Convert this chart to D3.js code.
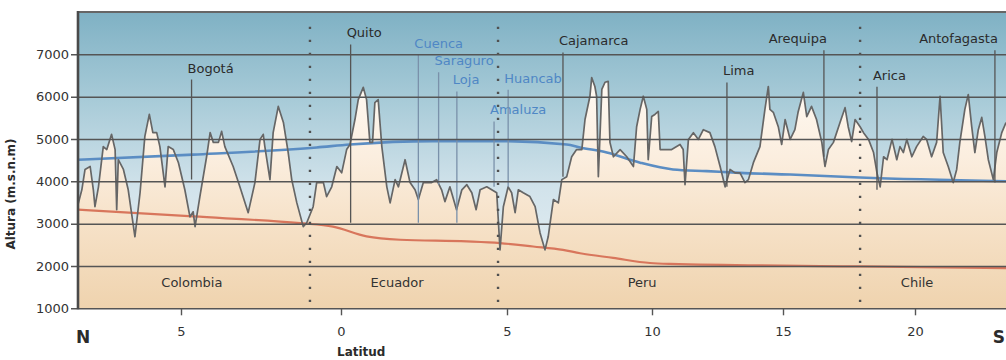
<!DOCTYPE html>
<html>
<head>
<meta charset="utf-8">
<script src="https://cdn.jsdelivr.net/npm/d3@7"></script>
<style>
  body { margin: 0; background: #fff; }
  svg { display: block; font-family: "DejaVu Sans", sans-serif; }
</style>
</head>
<body>
<svg id="chart" width="1006" height="360"></svg>
<script>
// ---- Data -------------------------------------------------------------
// Latitude is signed: negative = north, positive = south.
const latBreaks = [-8.22, -5, 0, 5, 10, 15, 20, 23.45];
const latTicks = [-5, 0, 5, 10, 15, 20];
const altTicks = [1000, 2000, 3000, 4000, 5000, 6000, 7000];

// Crest profile of the cordillera [latitude, altitude m]
const profile = [
  [-8.22,3450],[-8.10,3800],[-8.00,4280],[-7.84,4350],[-7.74,3800],[-7.69,3400],[-7.58,3870],
  [-7.43,4820],[-7.32,4750],[-7.17,5110],[-7.06,4750],[-7.01,3330],[-6.96,4510],[-6.80,4280],
  [-6.65,3800],[-6.44,2690],[-6.28,3730],[-6.13,5060],[-5.99,5580],[-5.88,5150],[-5.76,5150],
  [-5.66,4820],[-5.50,3870],[-5.40,4820],[-5.24,4750],[-5.08,4440],[-4.88,3800],[-4.72,3160],
  [-4.62,3280],[-4.56,2930],[-4.41,3640],[-4.20,4580],[-4.09,5150],[-3.99,4920],[-3.83,4920],
  [-3.73,5180],[-3.63,4820],[-3.37,4350],[-3.16,3870],[-2.90,3260],[-2.69,3970],[-2.53,4990],
  [-2.43,5110],[-2.38,4820],[-2.22,4040],[-2.12,5150],[-1.96,5770],[-1.80,5390],[-1.65,4680],
  [-1.54,4040],[-1.38,3490],[-1.18,2930],[-1.07,3020],[-0.87,3400],[-0.76,3970],[-0.55,3970],
  [-0.45,3640],[-0.29,3870],[-0.13,4350],[0.02,4200],[0.17,4750],[0.27,4870],[0.42,5460],
  [0.52,5930],[0.67,6220],[0.77,5930],[0.87,4920],[0.95,4920],[1.02,5860],[1.12,5930],
  [1.23,4820],[1.38,3870],[1.48,3490],[1.63,4040],[1.73,3870],[1.93,4510],[2.08,3970],
  [2.23,3800],[2.33,3570],[2.48,3970],[2.73,3970],[2.88,4040],[3.03,3800],[3.13,3520],
  [3.28,3870],[3.48,3330],[3.64,3800],[3.79,3920],[3.94,3730],[4.07,3330],[4.19,3800],
  [4.39,3870],[4.54,3800],[4.69,3730],[4.79,2380],[4.89,3400],[5.04,3870],[5.16,3730],
  [5.28,3260],[5.39,3800],[5.56,3730],[5.79,3640],[5.97,3400],[6.14,2780],[6.31,2380],
  [6.42,2690],[6.60,3570],[6.77,3490],[6.89,4040],[7.06,4110],[7.23,4580],[7.40,4750],
  [7.58,4750],[7.69,5460],[7.86,6010],[7.92,6450],[8.03,6240],[8.09,6010],[8.15,4110],
  [8.27,6170],[8.38,6340],[8.49,6360],[8.55,4920],[8.67,4580],[8.90,4750],[9.13,4580],
  [9.36,4350],[9.47,5290],[9.59,5700],[9.70,6010],[9.82,5700],[9.87,4510],[9.99,5530],
  [10.11,5580],[10.24,5650],[10.31,4750],[10.50,4750],[10.75,4750],[10.94,4820],[11.07,4870],
  [11.19,4750],[11.26,3920],[11.39,4990],[11.58,5150],[11.77,4990],[11.96,5220],[12.21,5150],
  [12.40,4820],[12.60,4350],[12.79,3870],[12.98,4280],[13.17,4200],[13.36,4200],[13.55,3970],
  [13.68,4040],[13.87,4440],[14.12,4820],[14.31,5700],[14.44,6240],[14.50,5700],[14.63,5630],
  [14.82,5290],[14.95,4870],[15.08,5460],[15.27,4990],[15.45,5220],[15.57,5630],[15.77,6100],
  [15.90,5530],[16.08,5770],[16.27,5460],[16.47,4920],[16.59,4350],[16.72,4750],[16.91,4920],
  [17.16,5390],[17.35,5740],[17.47,5290],[17.60,4940],[17.73,5460],[17.92,5290],[18.05,5150],
  [18.24,4990],[18.43,4680],[18.56,4200],[18.68,3870],[18.81,4580],[18.94,4510],[19.13,4990],
  [19.31,4510],[19.43,4820],[19.56,4680],[19.69,4990],[19.88,4580],[20.06,4820],[20.31,5060],
  [20.44,4990],[20.63,4580],[20.82,4920],[20.95,6010],[21.07,4680],[21.26,4350],[21.45,3970],
  [21.58,4280],[21.70,4920],[21.89,5700],[22.02,6050],[22.15,5290],[22.27,4680],[22.40,5220],
  [22.53,5510],[22.65,5060],[22.78,4510],[22.97,4040],[23.10,4680],[23.29,5150],[23.45,5390]
];

// Upper limit line (blue) [latitude, altitude m]
const upperLine = [
  [-8.22,4510],[-4.62,4630],[-0.76,4800],[0.27,4870],[2.77,4950],[4.79,4950],[7.06,4870],
  [7.52,4800],[8.44,4680],[9.59,4440],[10.80,4280],[12.09,4240],[13.36,4200],[15.27,4160],
  [17.92,4090],[23.45,4000]
];

// Lower limit line (red) [latitude, altitude m]
const lowerLine = [
  [-8.22,3330],[-4.62,3170],[-1.28,3010],[-0.25,2930],[0.77,2700],[1.78,2620],[3.79,2580],
  [4.79,2540],[5.90,2460],[6.93,2380],[7.52,2300],[8.66,2190],[9.93,2070],[10.69,2050],
  [17.92,1990],[23.45,1950]
];

// Cities: name, latitude, altitude where the marker meets the profile, label group
const cityNames = ["Bogotá","Quito","Cuenca","Saraguro","Loja","Amaluza","Huancabamba",
                   "Cajamarca","Lima","Arequipa","Arica","Antofagasta"];
const cityLat   = [-4.67, 0.29, 2.33, 2.94, 3.49, 4.61, 5.04, 6.93, 12.86, 16.55, 18.56, 23.03];
const cityBase  = [4040, 3020, 3020, 3920, 3020, 3870, 3870, 4110, 3870, 4580, 3800, 3970];
const cityGroup = ["main","main","minor","minor","minor","minor","minor",
                   "main","main","main","main","main"];

const countries  = ["Colombia", "Ecuador", "Peru", "Chile"];
const countryLat = [-4.66, 1.69, 9.66, 20.08];
const borderLat  = [-0.97, 4.73, 17.92];

// ---- Layout -----------------------------------------------------------
// Label heights (in metres, on the altitude scale) and anchoring of city names
const cityLabelAlt = [6570, 7400, 7160, 6740, 6290, 5580, 6330, 7210, 6500, 7260, 6400, 7260];
const cityAnchor   = ["start","start","start","start","start","start","start",
                      "start","start","end","start","end"];

const svg = d3.select("#chart");
const W = 1006, plotLeft = 78, plotTop = 12, plotBottom = 308.3;

const x = d3.scaleLinear().domain(latBreaks).range([78, 181, 341, 507, 652, 783, 915, 1006]);
const y = d3.scaleLinear().domain([1000, 8000]).range([plotBottom, plotTop]);

const defs = svg.append("defs");
const sky = defs.append("linearGradient").attr("id", "sky")
  .attr("gradientUnits", "userSpaceOnUse").attr("x1", 0).attr("x2", 0)
  .attr("y1", plotTop).attr("y2", plotBottom);
[["0%", "#7fb1c4"], ["30%", "#a8cbd8"], ["60%", "#d2e3eb"], ["100%", "#edf3f6"]]
  .forEach(([o, c]) => sky.append("stop").attr("offset", o).attr("stop-color", c));

const ground = defs.append("linearGradient").attr("id", "ground")
  .attr("gradientUnits", "userSpaceOnUse").attr("x1", 0).attr("x2", 0)
  .attr("y1", 75).attr("y2", plotBottom);
[["0%", "#fffaf4"], ["35%", "#fbeedf"], ["65%", "#f6e1c7"], ["100%", "#efd3ae"]]
  .forEach(([o, c]) => ground.append("stop").attr("offset", o).attr("stop-color", c));

defs.append("clipPath").attr("id", "plot")
  .append("rect").attr("x", plotLeft).attr("y", plotTop)
  .attr("width", W - plotLeft).attr("height", plotBottom - plotTop);

const plot = svg.append("g").attr("clip-path", "url(#plot)");

// sky background
plot.append("rect").attr("x", plotLeft).attr("y", plotTop)
  .attr("width", W - plotLeft).attr("height", plotBottom - plotTop).attr("fill", "url(#sky)");

// ground under the crest profile
plot.append("path").datum(profile)
  .attr("fill", "url(#ground)")
  .attr("d", d3.area().x(d => x(d[0])).y0(y(1000)).y1(d => y(d[1])));

// horizontal grid + left axis
const yAxis = svg.append("g").attr("transform", `translate(${plotLeft},0)`)
  .call(d3.axisLeft(y).tickValues(altTicks).tickSize(7).tickPadding(2).tickFormat(d3.format("d")));
yAxis.select(".domain").remove();
yAxis.selectAll(".tick line").attr("x1", -7).attr("x2", W - plotLeft)
  .attr("stroke", "#555").attr("stroke-width", 1.5);
yAxis.selectAll(".tick text").attr("font-size", 13).attr("fill", "#333")
  .attr("font-family", "DejaVu Sans, sans-serif");

// limit lines
const smooth = d3.line().x(d => x(d[0])).y(d => y(d[1])).curve(d3.curveMonotoneX);
plot.append("path").datum(lowerLine).attr("fill", "none")
  .attr("stroke", "#d8765c").attr("stroke-width", 2.2).attr("d", smooth);
plot.append("path").datum(upperLine).attr("fill", "none")
  .attr("stroke", "#5b8dc3").attr("stroke-width", 2.6).attr("d", smooth);

// crest profile
plot.append("path").datum(profile).attr("fill", "none")
  .attr("stroke", "#666").attr("stroke-width", 1.7).attr("stroke-linejoin", "round")
  .attr("d", d3.line().x(d => x(d[0])).y(d => y(d[1])));

// national borders
plot.selectAll("line.border").data(borderLat).join("line").attr("class", "border")
  .attr("x1", d => x(d)).attr("x2", d => x(d))
  .attr("y1", y(7650)).attr("y2", y(1000))
  .attr("stroke", "#505050").attr("stroke-width", 2.4).attr("stroke-dasharray", "2.2,10.8");

// country names
plot.selectAll("text.country").data(countries).join("text").attr("class", "country")
  .attr("x", (d, i) => x(countryLat[i])).attr("y", y(1610))
  .attr("text-anchor", "middle").attr("dominant-baseline", "central")
  .attr("font-size", 13).attr("fill", "#333").text(d => d);

// cities
const cityColor = { main: "#2b2b2b", minor: "#4f87c5" };
const cityStroke = { main: "#555", minor: "#7a91aa" };
defs.append("clipPath").attr("id", "huancaClip")
  .append("rect").attr("x", 0).attr("y", 0).attr("width", x(cityLat[7]) - 1).attr("height", 360);

cityNames.forEach((name, i) => {
  const cx = x(cityLat[i]);
  const ly = y(cityLabelAlt[i]);
  plot.append("line")
    .attr("x1", cx).attr("x2", cx).attr("y1", ly + 7).attr("y2", y(cityBase[i]))
    .attr("stroke", cityStroke[cityGroup[i]]).attr("stroke-width", 1.3);
  const t = plot.append("text")
    .attr("x", cityAnchor[i] === "end" ? cx + 3 : cx - 4).attr("y", ly)
    .attr("text-anchor", cityAnchor[i])
    .attr("font-size", 13).attr("fill", cityColor[cityGroup[i]]).text(name);
  if (name === "Huancabamba") t.attr("clip-path", "url(#huancaClip)");
});

// frame
svg.append("line").attr("x1", plotLeft).attr("x2", W).attr("y1", plotTop).attr("y2", plotTop)
  .attr("stroke", "#666").attr("stroke-width", 2);
svg.append("line").attr("x1", plotLeft).attr("x2", plotLeft)
  .attr("y1", plotTop - 1).attr("y2", plotBottom + 1)
  .attr("stroke", "#4a4a4a").attr("stroke-width", 2.6);

// bottom axis
const xAxis = svg.append("g").attr("transform", `translate(0,${plotBottom})`)
  .call(d3.axisBottom(x).tickValues(latTicks).tickSize(7).tickPadding(11)
    .tickFormat(d => Math.abs(d)));
xAxis.select(".domain").remove();
xAxis.selectAll(".tick line").attr("stroke", "#555").attr("stroke-width", 1.4);
xAxis.selectAll(".tick text").attr("font-size", 13).attr("fill", "#333")
  .attr("font-family", "DejaVu Sans, sans-serif");

svg.append("text").attr("x", 83).attr("y", 343).attr("text-anchor", "middle")
  .attr("font-size", 17).attr("font-weight", "bold").attr("fill", "#2b2b2b").text("N");
svg.append("text").attr("x", 1005).attr("y", 343).attr("text-anchor", "end")
  .attr("font-size", 17).attr("font-weight", "bold").attr("fill", "#2b2b2b").text("S");

svg.append("text").attr("x", 337).attr("y", 356)
  .attr("font-size", 12).attr("font-weight", "bold").attr("fill", "#2b2b2b").text("Latitud");
svg.append("text").attr("transform", "translate(15,194) rotate(-90)")
  .attr("text-anchor", "middle")
  .attr("font-size", 12).attr("font-weight", "bold").attr("fill", "#2b2b2b").text("Altura (m.s.n.m)");
</script>
</body>
</html>
